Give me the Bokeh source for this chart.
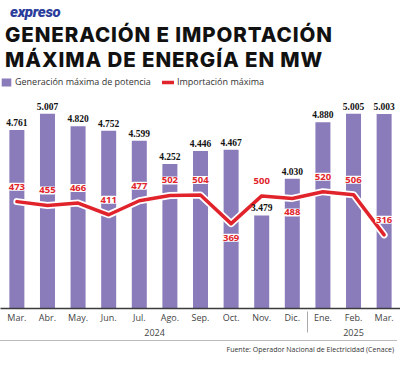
from bokeh.plotting import figure
from bokeh.models import (ColumnDataSource, FactorRange, Range1d, Legend, LegendItem, Div, LabelSet)
from bokeh.layouts import column
from bokeh.core.properties import value
from bokeh.embed import file_html
from bokeh.resources import INLINE

# ---------------- data ----------------
years = ["2024"] * 10 + ["2025"] * 3
months = ["Mar.", "Abr.", "May.", "Jun.", "Jul.", "Ago.", "Sep.", "Oct.", "Nov.", "Dic.",
          "Ene.", "Feb.", "Mar."]
generacion = [4761, 5007, 4820, 4752, 4599, 4252, 4446, 4467, 3479, 4030, 4880, 5005, 5003]
importacion = [473, 455, 466, 411, 477, 502, 504, 369, 500, 488, 520, 506, 316]

# label placement for import values (style only)
imp_label_side = ["above"] * 13
imp_label_side[7] = "below"
imp_label_side[9] = "below"

PURPLE = "#8a7bba"
RED = "#e1232b"
FONT = "Open Sans, sans-serif"

factors = list(zip(years, months))
src = ColumnDataSource(dict(
    x=factors,
    gen=generacion,
    imp=importacion,
    gen_lbl=[f"{v:,}".replace(",", ".") for v in generacion],
    imp_lbl=[str(v) for v in importacion],
    imp_off=[-15 if s == "above" else 14 for s in imp_label_side],
))

x_range = FactorRange(*factors, factor_padding=0, group_padding=0,
                      range_padding=0.035, range_padding_units="absolute")

p = figure(x_range=x_range, y_range=Range1d(2083, 5580),
           width=400, height=268, output_backend="svg", toolbar_location=None,
           y_axis_location=None, min_border_left=0, min_border_right=0,
           min_border_top=3, min_border_bottom=32, background_fill_color="white",
           border_fill_color="white", outline_line_color=None)
p.extra_y_ranges = {"imp": Range1d(-32, 1069)}
p.xgrid.visible = False
p.ygrid.visible = False

bars = p.vbar(x="x", top="gen", bottom=2083, width=0.49, source=src,
              fill_color=PURPLE, line_color=None)

p.add_layout(LabelSet(x="x", y="gen", text="gen_lbl", source=src, text_align="center",
                      text_baseline="bottom", y_offset=4, text_font=FONT,
                      text_font_style="bold", text_font_size="9.5px", text_color="#111111"))

halo = p.line(x="x", y="imp", source=src, y_range_name="imp", line_color="white",
              line_width=7, line_join="round", line_cap="round")
red_line = p.line(x="x", y="imp", source=src, y_range_name="imp", line_color=RED,
                  line_width=3.5, line_join="round", line_cap="round")

p.text(x="x", y="imp", text="imp_lbl", source=src, y_range_name="imp",
       text_align="center", text_baseline="middle", y_offset="imp_off",
       text_font=value(FONT), text_font_style="bold", text_font_size="9.5px",
       text_color=RED, background_fill_color="white", padding=1, border_radius=3)

xa = p.xaxis[0]
xa.axis_line_color = "#3c3c3c"
xa.axis_line_width = 1.5
xa.major_tick_line_color = None
xa.minor_tick_line_color = None
xa.major_tick_out = 0
xa.major_tick_in = 0
xa.minor_tick_out = 0
xa.minor_tick_in = 0
xa.major_label_standoff = 2
xa.major_label_text_font = FONT
xa.major_label_text_font_size = "9px"
xa.major_label_text_color = "#444444"
xa.group_text_font = FONT
xa.group_text_font_size = "9px"
xa.group_text_color = "#444444"
xa.group_text_font_style = "normal"
xa.separator_line_color = "#aaaaaa"
xa.separator_line_width = 1

legend = Legend(items=[LegendItem(label="Generación máxima de potencia", renderers=[bars]),
                       LegendItem(label="Importación máxima", renderers=[red_line])],
                location="top_left", orientation="horizontal", padding=5, margin=0,
                spacing=11, label_standoff=3, glyph_width=12, glyph_height=10,
                label_height=12, label_text_font=FONT, label_text_font_size="9px",
                label_text_color="#333333", background_fill_alpha=0,
                border_line_color=None)
p.add_layout(legend)

header = Div(width=400, height=72, margin=(0, 0, 0, 0), text="""
<div style="position:relative;width:400px;height:72px;">
  <div style="position:absolute;left:10px;top:4px;font-family:'Roboto';font-style:italic;
       font-weight:900;font-size:15px;line-height:16px;color:#2b3d9b;letter-spacing:-0.3px;">expreso</div>
  <div style="position:absolute;left:5px;top:22px;font-family:'Inter';font-weight:800;
       font-size:20.5px;line-height:25px;color:#111111;white-space:nowrap;letter-spacing:0.9px;">GENERACIÓN E IMPORTACIÓN</div>
  <div style="position:absolute;left:5px;top:47px;font-family:'Inter';font-weight:800;
       font-size:20.5px;line-height:25px;color:#111111;white-space:nowrap;letter-spacing:0.9px;">MÁXIMA DE ENERGÍA EN MW</div>
</div>""")

footer = Div(width=400, height=36, margin=(0, 0, 0, 0), text="""
<div style="width:397px;height:35px;border-top:1px solid #bbbbbb;position:relative;">
  <div style="position:absolute;right:3px;top:4px;font-family:'Open Sans';font-size:7px;
       color:#333333;white-space:nowrap;">Fuente: Operador Nacional de Electricidad (Cenace)</div>
</div>""")

layout = column(header, p, footer, spacing=0)

open("out.html", "w").write(file_html(layout, INLINE))
